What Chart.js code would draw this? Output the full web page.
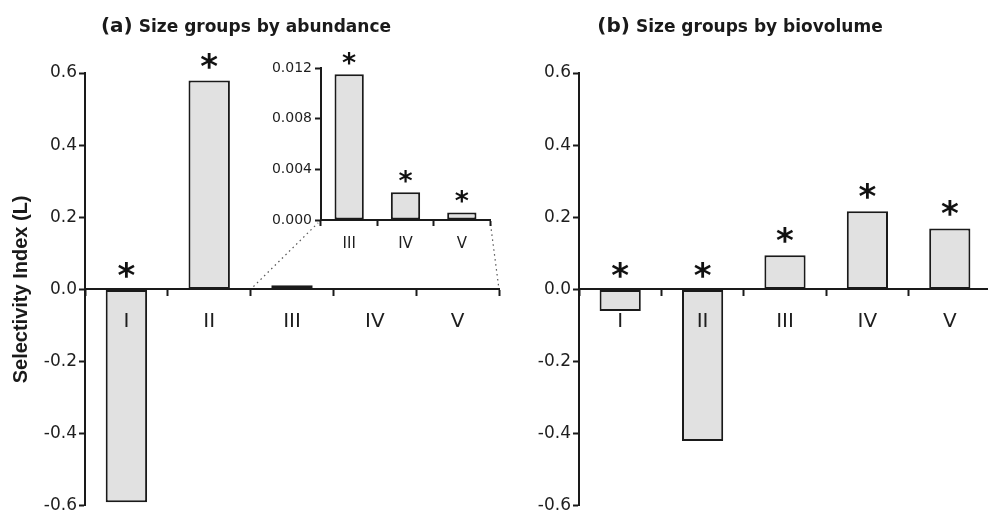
<!DOCTYPE html>
<html><head><meta charset="utf-8">
<script src="https://cdn.jsdelivr.net/npm/chart.js@4.4.1/dist/chart.umd.min.js"></script>
<style>
html,body{margin:0;padding:0;background:#fff;overflow:hidden;width:988px;height:518px;}
#wrap{position:relative;width:988px;height:518px;overflow:hidden;}
canvas{position:absolute;}
#cA{left:0;top:0;}
#cB{left:494px;top:0;}
#cI{left:240px;top:40px;}
</style></head><body>
<div id="wrap">
<canvas id="cA" width="520" height="518"></canvas>
<canvas id="cB" width="500" height="518"></canvas>
<canvas id="cI" width="270" height="262"></canvas>
</div>
<script>
// ---- data ----
const categories = ['I', 'II', 'III', 'IV', 'V'];
const abundanceValues = [-0.59, 0.579, 0.0115, 0.0022, 0.0006];
const abundanceSignificant = [true, true, false, false, false];
const insetCategories = ['III', 'IV', 'V'];
const insetValues = [0.0115, 0.0022, 0.0006];
const insetSignificant = [true, true, true];
const biovolumeValues = [-0.06, -0.42, 0.095, 0.217, 0.169];
const biovolumeSignificant = [true, true, true, true, true];
const mainTickValues = [-0.6, -0.4, -0.2, 0, 0.2, 0.4, 0.6];
const insetTickValues = [0, 0.004, 0.008, 0.012];
const titleA = ['(a)', 'Size groups by abundance'];
const titleB = ['(b)', 'Size groups by biovolume'];
const yAxisTitle = 'Selectivity Index (L)';

// ---- styles ----
const INK = '#1a1a1a';
const TXT = '#1e1e1e';
const FILL = '#e1e1e1';
const FONT = '"DejaVu Sans", sans-serif';

const starPlugin = {
  id: 'stars',
  afterDatasetsDraw(chart, args, opts) {
    const meta = chart.getDatasetMeta(0);
    const data = chart.data.datasets[0].data;
    const ctx = chart.ctx;
    ctx.save();
    ctx.font = 'bold ' + opts.size + 'px ' + FONT;
    ctx.textAlign = 'center';
    ctx.textBaseline = 'alphabetic';
    ctx.fillStyle = '#111';
    meta.data.forEach((bar, i) => {
      if (!opts.flags || !opts.flags[i]) return;
      const ref = data[i] >= 0 ? bar.y : bar.base;
      ctx.fillText('*', bar.x, ref - opts.gap);
    });
    ctx.restore();
  }
};

const titlePlugin = {
  id: 'panelTitle',
  afterDraw(chart, args, opts) {
    if (!opts.parts) return;
    const ctx = chart.ctx;
    ctx.save();
    ctx.fillStyle = INK;
    ctx.textBaseline = 'alphabetic';
    ctx.textAlign = 'left';
    ctx.font = 'bold 20px ' + FONT;
    const w1 = ctx.measureText(opts.parts[0]).width;
    ctx.font = 'bold 17px ' + FONT;
    const w2 = ctx.measureText(opts.parts[1]).width;
    const gap = 6;
    let x = opts.center - (w1 + gap + w2) / 2;
    ctx.font = 'bold 20px ' + FONT;
    ctx.fillText(opts.parts[0], x, opts.baseline);
    ctx.font = 'bold 17px ' + FONT;
    ctx.fillText(opts.parts[1], x + w1 + gap, opts.baseline);
    ctx.restore();
  }
};

function mainOptions(withTitle, stars, title) {
  return {
    responsive: false,
    animation: false,
    devicePixelRatio: 1,
    layout: { padding: { top: 73, bottom: 11, left: 0, right: 0 } },
    plugins: {
      legend: { display: false },
      tooltip: { enabled: false },
      stars: { flags: stars, size: 34, gap: 3 },
      panelTitle: { parts: title, center: 246, baseline: 32 }
    },
    scales: {
      x: {
        type: 'category',
        position: { y: 0 },
        offset: true,
        grid: { offset: true, drawOnChartArea: false, drawTicks: true, tickLength: 6, tickWidth: 2, tickColor: INK, z: 1 },
        border: { display: true, width: 2, color: INK, z: 1 },
        ticks: { font: { family: FONT, size: 20 }, color: TXT, padding: 14, maxRotation: 0, autoSkip: false, z: 1 }
      },
      y: {
        type: 'linear',
        position: 'left',
        min: -0.6, max: 0.6,
        afterFit: s => { s.width = 85; },
        afterBuildTicks: s => { s.ticks = mainTickValues.map(v => ({ value: v })); },
        grid: { drawOnChartArea: false, drawTicks: true, tickLength: 6, tickWidth: 2, tickColor: INK },
        border: { display: true, width: 2, color: INK },
        ticks: { font: { family: FONT, size: 17 }, color: TXT, padding: 2, callback: v => Number(v).toFixed(1) },
        title: { display: withTitle, text: yAxisTitle, color: INK,
                 font: { family: '"Liberation Sans", Arial, sans-serif', size: 20, weight: 'bold' },
                 padding: { top: 9, bottom: 0 } }
      }
    }
  };
}

const barStyle = {
  backgroundColor: FILL, borderColor: INK, borderWidth: 2, borderSkipped: false,
  categoryPercentage: 1, barPercentage: 0.5
};

const cA = document.getElementById('cA');
const cB = document.getElementById('cB');
const cI = document.getElementById('cI');

const optsA = mainOptions(true, abundanceSignificant, titleA);
optsA.layout.padding.right = 21;
const chartA = new Chart(cA, {
  type: 'bar',
  data: { labels: categories, datasets: [Object.assign({ data: abundanceValues }, barStyle)] },
  options: optsA,
  plugins: [starPlugin, titlePlugin]
});

const optsB = mainOptions(false, biovolumeSignificant, titleB);
optsB.layout.padding.right = 3;
const chartB = new Chart(cB, {
  type: 'bar',
  data: { labels: categories, datasets: [Object.assign({ data: biovolumeValues }, barStyle)] },
  options: optsB,
  plugins: [starPlugin, titlePlugin]
});

// dotted connector lines from main panel (a) to the inset
const connectorPlugin = {
  id: 'connector',
  beforeDraw(chart) {
    const xs = chartA.scales.x, ys = chartA.scales.y;
    const dx = cI.offsetLeft - cA.offsetLeft;
    const dy = cI.offsetTop - cA.offsetTop;
    const i0 = categories.indexOf(insetCategories[0]);
    const leftA = (xs.getPixelForValue(i0) + xs.getPixelForValue(i0 - 1)) / 2 - dx;
    const rightA = xs.right - dx;
    const zeroA = ys.getPixelForValue(0) - dy;
    const iy = chart.scales.y.getPixelForValue(0);
    const ca = chart.chartArea;
    const ctx = chart.ctx;
    ctx.save();
    ctx.strokeStyle = '#555';
    ctx.lineWidth = 1.2;
    ctx.setLineDash([1.5, 3.5]);
    const seg = (x1, y1, x2, y2) => {
      const L = Math.hypot(x2 - x1, y2 - y1), s = 4 / L;
      ctx.beginPath();
      ctx.moveTo(x1 + (x2 - x1) * s, y1 + (y2 - y1) * s);
      ctx.lineTo(x2 - (x2 - x1) * s, y2 - (y2 - y1) * s);
      ctx.stroke();
    };
    seg(leftA, zeroA, ca.left, iy);
    seg(rightA, zeroA, ca.right, iy);
    ctx.restore();
  }
};

const chartI = new Chart(cI, {
  type: 'bar',
  data: { labels: insetCategories, datasets: [Object.assign({ data: insetValues }, barStyle, { barPercentage: 0.52 })] },
  options: {
    responsive: false,
    animation: false,
    devicePixelRatio: 1,
    layout: { padding: { top: 28, bottom: 82, left: 0, right: 20 } },
    plugins: {
      legend: { display: false },
      tooltip: { enabled: false },
      stars: { flags: insetSignificant, size: 27, gap: 2 }
    },
    scales: {
      x: {
        type: 'category',
        position: { y: 0 },
        offset: true,
        grid: { offset: true, drawOnChartArea: false, drawTicks: true, tickLength: 5, tickWidth: 2, tickColor: INK, z: 1 },
        border: { display: true, width: 2, color: INK, z: 1 },
        ticks: { font: { family: FONT, size: 15 }, color: TXT, padding: 10, maxRotation: 0, autoSkip: false, z: 1 }
      },
      y: {
        type: 'linear',
        position: 'left',
        min: 0, max: 0.012,
        afterFit: s => { s.width = 81; },
        afterBuildTicks: s => { s.ticks = insetTickValues.map(v => ({ value: v })); },
        grid: { drawOnChartArea: false, drawTicks: true, tickLength: 6, tickWidth: 2, tickColor: INK },
        border: { display: true, width: 2, color: INK },
        ticks: { font: { family: FONT, size: 14 }, color: TXT, padding: 3, callback: v => Number(v).toFixed(3) }
      }
    }
  },
  plugins: [starPlugin, connectorPlugin]
});
</script>
</body></html>
